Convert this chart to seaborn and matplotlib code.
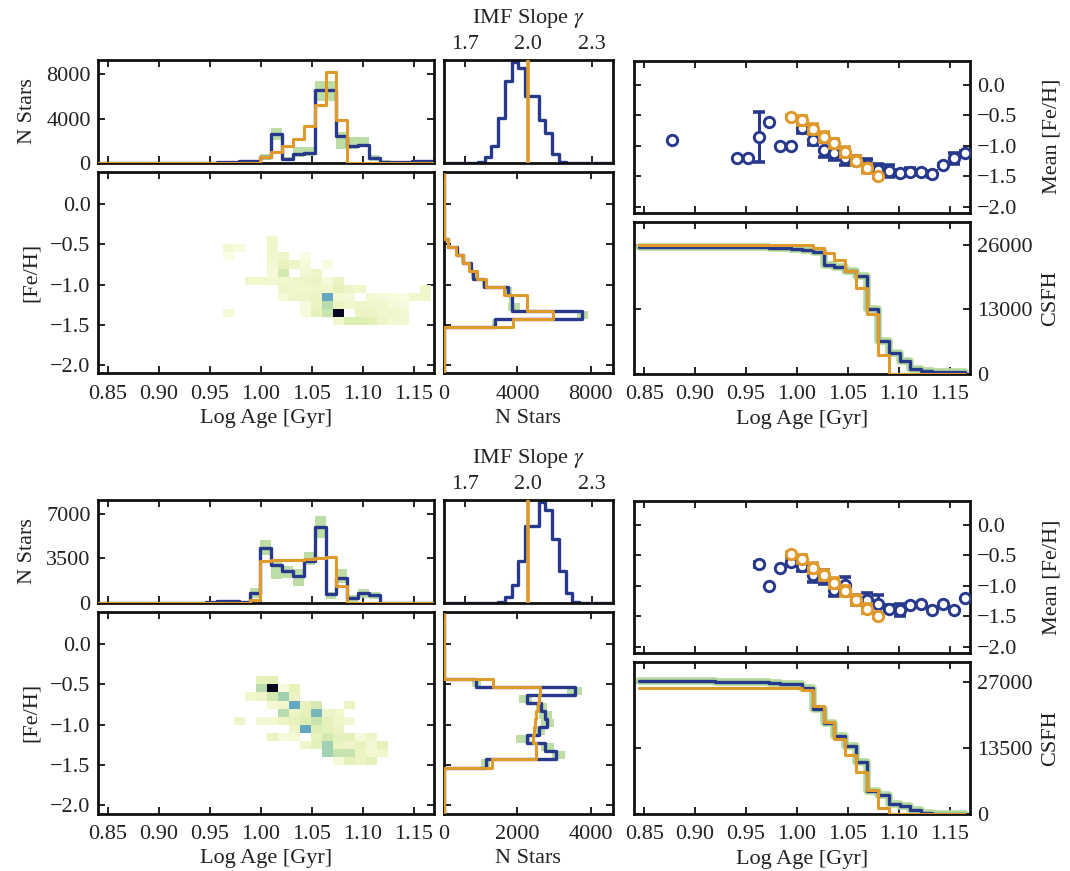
import numpy as np
import pandas as pd
import matplotlib
matplotlib.use("Agg")
import matplotlib.pyplot as plt
import seaborn as sns
from matplotlib.colors import LinearSegmentedColormap

# ---------------------------------------------------------------- bin grids
age_edges = np.linspace(0.84, 1.17, 32)            # log-age bins of the SFH histograms
age_mid = 0.5 * (age_edges[:-1] + age_edges[1:])
feh_edges = np.linspace(-2.13, 0.37, 26)           # [Fe/H] bins of the side histograms
feh_mid = 0.5 * (feh_edges[:-1] + feh_edges[1:])
gamma_edges = np.linspace(1.6, 2.4, 26)            # IMF slope bins
gamma_mid = 0.5 * (gamma_edges[:-1] + gamma_edges[1:])
map_age_edges = np.linspace(0.9632, 1.16745, 20)   # age-metallicity map grid
map_feh_edges = np.linspace(-1.5, -0.4, 12)

# ---------------------------------------------------------------- model 1 (upper block)
nstars_fit_1 = [0, 0, 0, 30, 0, 0, 0, 0, 0, 40, 40, 60, 100, 150, 200, 500,
                2600, 400, 780, 900, 6600, 6600, 2400, 1550, 1600, 420, 100, 60, 60, 150, 200]
nstars_lo_1 = [0, 0, 0, 30, 0, 0, 0, 0, 0, 40, 40, 60, 100, 150, 200, 250,
               2100, 150, 550, 600, 5600, 5600, 1300, 1300, 1400, 200, 50, 60, 60, 150, 200]
nstars_hi_1 = [0, 0, 0, 30, 0, 0, 0, 0, 0, 40, 40, 60, 100, 150, 200, 800,
               3200, 550, 1400, 1400, 7400, 7400, 2800, 2300, 2300, 750, 250, 60, 60, 150, 200]
nstars_true_1 = [0, 0, 0, 0, 0, 0, 0, 0, 0, 0, 0, 0, 0, 0, 0, 540,
                 990, 1500, 2200, 3300, 5260, 8200, 3900, 0, 0, 0, 0, 0, 0, 0, 0]

feh_fit_1 = [0, 0, 0, 0, 0, 0, 2780, 7500, 3690, 3690, 3510, 2200, 1600, 1450, 1050, 690, 240,
             0, 0, 0, 0, 0, 0, 0, 0]
feh_lo_1 = [0, 0, 0, 0, 0, 0, 2600, 7250, 3500, 3550, 3350, 2050, 1450, 1350, 950, 600, 180,
            0, 0, 0, 0, 0, 0, 0, 0]
feh_hi_1 = [0, 0, 0, 0, 0, 0, 2900, 7870, 4150, 3800, 3700, 2350, 1750, 1550, 1150, 780, 300,
            0, 0, 0, 0, 0, 0, 0, 0]
feh_true_1 = [0, 0, 0, 0, 0, 0, 3780, 5960, 4500, 4500, 3270, 2290, 1780, 1380, 1020, 650, 240,
              0, 0, 0, 0, 0, 0, 0, 0]

imf_fit_1 = [0, 0, 0, 0, 0, 0.01, 0.057, 0.167, 0.44, 0.80, 0.98, 0.92, 0.65, 0.65, 0.42,
             0.29, 0.09, 0.013, 0, 0, 0, 0, 0, 0, 0]
imf_true_1 = 2.0

# age-metallicity map, rows from [Fe/H] = -0.45 (top) down to -1.45
amr_map_1 = [
    [0, 0, 0, 0, .10, 0, 0, 0, 0, 0, 0, 0, 0, 0, 0, 0, 0, 0, 0],
    [.08, .04, 0, 0, .10, 0, 0, 0, 0, 0, 0, 0, 0, 0, 0, 0, 0, 0, 0],
    [.02, 0, 0, 0, .10, .12, 0, .03, 0, 0, 0, 0, 0, 0, 0, 0, 0, 0, 0],
    [0, 0, 0, 0, .08, .18, .12, .05, 0, .03, 0, 0, 0, 0, 0, 0, 0, 0, 0],
    [0, 0, 0, 0, .06, .30, 0, .08, .12, 0, 0, 0, 0, 0, 0, 0, 0, 0, 0],
    [0, 0, .10, .10, .08, .10, .10, .12, .14, .05, .15, 0, 0, 0, 0, 0, 0, 0, 0],
    [0, 0, 0, 0, 0, .12, .10, .10, .12, .10, .18, .12, .10, 0, 0, 0, 0, 0, .10],
    [0, 0, 0, 0, 0, .06, .12, .12, .15, .60, .08, .06, 0, .08, .05, .04, .02, .10, .10],
    [0, 0, 0, 0, 0, 0, 0, .04, .15, .40, .15, .10, .12, .10, .10, .06, .04, 0, 0],
    [.06, 0, 0, 0, 0, 0, 0, .04, .20, .35, 1.0, 0, .15, .15, .10, .10, .08, 0, 0],
    [0, 0, 0, 0, 0, 0, 0, 0, 0, 0, .10, .25, .25, .22, .12, .08, .08, 0, 0],
]

mean_bin_1 = [3, 9, 10, 11, 12, 13, 14, 15, 16, 17, 18, 19, 20, 21, 22, 23, 24, 25, 26, 27, 28, 29, 30]
mean_feh_fit_1 = [-0.91, -1.20, -1.20, -0.85, -0.60, -1.00, -1.00, -0.70, -0.90, -1.06, -1.11, -1.20,
                  -1.24, -1.31, -1.39, -1.41, -1.44, -1.42, -1.42, -1.46, -1.31, -1.20, -1.11]
mean_feh_err_1 = [0, 0, 0, 0.41, 0, 0, 0, 0.09, 0.09, 0.12, 0.12, 0.12,
                  0.08, 0.09, 0.10, 0.10, 0.05, 0.05, 0.03, 0.05, 0.02, 0.09, 0.03]
mean_true_bin_1 = [14, 15, 16, 17, 18, 19, 20, 21, 22]
mean_feh_true_1 = [-0.52, -0.58, -0.72, -0.85, -0.96, -1.10, -1.24, -1.37, -1.50]
mean_feh_true_err_1 = [0.03, 0.07, 0.08, 0.08, 0.08, 0.08, 0.08, 0.07, 0.03]

# ---------------------------------------------------------------- model 2 (lower block)
nstars_fit_2 = [20, 20, 20, 20, 20, 20, 20, 20, 20, 30, 50, 150, 150, 50, 800, 4300,
                2950, 2550, 2100, 3300, 5960, 700, 1950, 400, 800, 650, 30, 20, 20, 20, 20]
nstars_lo_2 = [20, 20, 20, 20, 20, 20, 20, 20, 20, 30, 50, 150, 150, 50, 400, 3750,
               1900, 2000, 1350, 2950, 5100, 300, 1600, 100, 425, 300, 30, 20, 20, 20, 20]
nstars_hi_2 = [20, 20, 20, 20, 20, 20, 20, 20, 20, 30, 50, 150, 150, 50, 1200, 4950,
               3200, 2900, 2700, 4000, 6800, 900, 2700, 600, 1100, 900, 30, 20, 20, 20, 20]
nstars_true_2 = [0, 0, 0, 0, 0, 0, 0, 0, 0, 0, 0, 0, 0, 0, 250, 3300,
                 3350, 3400, 3400, 3480, 3560, 3620, 1300, 0, 0, 0, 0, 0, 0, 0, 0]

feh_fit_2 = [0, 0, 0, 0, 0, 0, 1150, 3050, 2750, 2250, 2600, 2800, 2750, 2640, 2250, 3570, 870,
             0, 0, 0, 0, 0, 0, 0, 0]
feh_lo_2 = [0, 0, 0, 0, 0, 0, 1000, 2950, 2650, 1950, 2450, 2650, 2600, 2500, 2050, 3350, 750,
            0, 0, 0, 0, 0, 0, 0, 0]
feh_hi_2 = [0, 0, 0, 0, 0, 0, 1250, 3300, 3000, 2350, 2750, 3000, 2950, 2800, 2400, 3750, 1000,
            0, 0, 0, 0, 0, 0, 0, 0]
feh_true_2 = [0, 0, 0, 0, 0, 0, 1300, 2520, 2500, 2420, 2450, 2480, 2520, 2550, 2600, 2620, 1345,
              0, 0, 0, 0, 0, 0, 0, 0]

imf_fit_2 = [0, 0, 0, 0, 0, 0, 0, 0, 0.013, 0.057, 0.17, 0.41, 0.75, 0.75, 0.98, 0.90,
             0.625, 0.31, 0.10, 0.013, 0, 0, 0, 0, 0]
imf_true_2 = 2.0

amr_map_2 = [
    [0, 0, 0, .20, .22, 0, 0, 0, 0, 0, 0, 0, 0, 0, 0, 0, 0, 0, 0],
    [0, 0, 0, .40, 1.0, .04, .18, 0, 0, 0, 0, 0, 0, 0, 0, 0, 0, 0, 0],
    [0, 0, .10, .12, .30, .45, .15, 0, 0, 0, 0, 0, 0, 0, 0, 0, 0, 0, 0],
    [0, 0, 0, 0, .08, .10, .60, .18, .30, 0, 0, .15, 0, 0, 0, 0, 0, 0, 0],
    [0, 0, 0, 0, 0, .40, .15, .20, .55, .12, .10, 0, 0, 0, 0, 0, 0, 0, 0],
    [0, .12, 0, .08, .08, .15, .18, .25, .35, .20, .12, .08, 0, 0, 0, 0, 0, 0, 0],
    [0, 0, 0, 0, 0, 0, .12, .60, .25, .20, .15, 0, 0, 0, 0, 0, 0, 0, 0],
    [0, 0, 0, 0, .15, .04, .06, 0, .18, .30, .20, .20, .05, .12, 0, 0, 0, 0, 0],
    [0, 0, 0, 0, 0, 0, 0, .10, .20, .45, .15, .12, .18, .08, .20, 0, 0, 0, 0],
    [0, 0, 0, 0, 0, 0, 0, 0, 0, .45, .35, .35, .15, .08, .10, 0, 0, 0, 0],
    [0, 0, 0, 0, 0, 0, 0, 0, 0, 0, .06, .20, .15, .20, 0, 0, 0, 0, 0],
]

mean_bin_2 = [11, 12, 13, 14, 15, 16, 17, 18, 19, 20, 21, 22, 23, 24, 25, 26, 27, 28, 29, 30]
mean_feh_fit_2 = [-0.645, -1.00, -0.705, -0.60, -0.68, -0.82, -0.85, -1.06, -0.99, -1.23,
                  -1.23, -1.30, -1.37, -1.40, -1.31, -1.29, -1.39, -1.30, -1.39, -1.19]
mean_feh_err_2 = [0.04, 0, 0, 0.08, 0.08, 0.12, 0.12, 0.10, 0.13, 0.08,
                  0.12, 0.15, 0.05, 0.10, 0, 0, 0, 0, 0, 0]
mean_true_bin_2 = [14, 15, 16, 17, 18, 19, 20, 21, 22]
mean_feh_true_2 = [-0.48, -0.56, -0.70, -0.82, -0.95, -1.08, -1.23, -1.37, -1.50]
mean_feh_true_err_2 = [0.03, 0.07, 0.08, 0.08, 0.08, 0.08, 0.08, 0.07, 0.03]

# ---------------------------------------------------------------- axis settings
age_ticks = [0.85, 0.90, 0.95, 1.00, 1.05, 1.10, 1.15]
feh_ticks = [0.0, -0.5, -1.0, -1.5, -2.0]
gamma_ticks = [1.7, 2.0, 2.3]
nstars_ticks_1, nstars_ticks_2 = [0, 4000, 8000], [0, 3500, 7000]
side_ticks_1, side_ticks_2 = [0, 4000, 8000], [0, 2000, 4000]
csfh_ticks_1, csfh_ticks_2 = [0, 13000, 26000], [0, 13500, 27000]

# ---------------------------------------------------------------- style
sns.set_theme(style="ticks")
plt.rcParams.update({
    "font.family": ["Liberation Serif", "DejaVu Serif"],
    "mathtext.fontset": "stix",
    "axes.linewidth": 2.0,
    "axes.edgecolor": "#111111",
    "xtick.direction": "in", "ytick.direction": "in",
    "xtick.major.size": 5, "ytick.major.size": 5,
    "xtick.major.width": 1.3, "ytick.major.width": 1.3,
    "xtick.major.pad": 8, "ytick.major.pad": 5,
    "xtick.labelsize": 16, "ytick.labelsize": 16,
    "axes.labelsize": 16,
    "text.color": "#222222", "axes.labelcolor": "#222222",
    "xtick.color": "#111111", "ytick.color": "#111111",
    "xtick.labelcolor": "#222222", "ytick.labelcolor": "#222222",
})

BLUE = "#27398c"
ORANGE = "#e0992b"
GREEN = "#b6da9e"
map_cmap = LinearSegmentedColormap.from_list(
    "amr", ["#fbfde8", "#eef5c6", "#dfeeb2", "#c2e1ad", "#8dc5b5",
            "#5a9fc3", "#3470ad", "#1c2a66", "#07081f"])

fig = plt.figure(figsize=(10.7, 8.71), dpi=100)


def ticks_all(ax):
    ax.tick_params(top=True, bottom=True, left=True, right=True)


def step_hist(ax, centers, counts, edges, color, lw, z, vertical=False):
    frame = pd.DataFrame({"pos": centers, "count": np.asarray(counts, dtype=float)})
    bins = [float(e) for e in edges]
    if vertical:
        sns.histplot(data=frame, y="pos", weights="count", bins=bins, element="step",
                     fill=False, color=color, linewidth=lw, ax=ax, zorder=z)
    else:
        sns.histplot(data=frame, x="pos", weights="count", bins=bins, element="step",
                     fill=False, color=color, linewidth=lw, ax=ax, zorder=z)


def draw_block(shift, nfit, nlo, nhi, ntrue, ffit, flo, fhi, ftrue, imf_fit, imf_true,
               amr, mbin, mfit, merr, tbin, mtrue, mterr,
               n_ylim, n_ticks, s_xlim, s_ticks, c_ylim, c_ticks):
    nfit, nlo, nhi, ntrue = map(np.asarray, (nfit, nlo, nhi, ntrue))
    ffit, flo, fhi, ftrue = map(np.asarray, (ffit, flo, fhi, ftrue))

    axA = fig.add_axes([0.0913, 0.8129 - shift, 0.3143, 0.1183])
    axB = fig.add_axes([0.0913, 0.5712 - shift, 0.3143, 0.2317])
    axC = fig.add_axes([0.4150, 0.8129 - shift, 0.1577, 0.1183])
    axD = fig.add_axes([0.4150, 0.5712 - shift, 0.1577, 0.2317])
    axE = fig.add_axes([0.5925, 0.7555 - shift, 0.3140, 0.1749])
    axF = fig.add_axes([0.5925, 0.5706 - shift, 0.3140, 0.1749])

    # star counts per age bin
    axA.fill_between(age_edges, np.append(nlo, nlo[-1]), np.append(nhi, nhi[-1]),
                     step="post", color=GREEN, lw=0, alpha=0.9, zorder=1)
    step_hist(axA, age_mid, nfit, age_edges, BLUE, 2.4, 2)
    step_hist(axA, age_mid, ntrue, age_edges, ORANGE, 2.2, 3)
    axA.set_xlim(0.84, 1.17)
    axA.set_ylim(*n_ylim)
    axA.set_xticks(age_ticks)
    axA.set_xticklabels([])
    axA.set_yticks(n_ticks)
    axA.set_xlabel("")
    axA.set_ylabel("N Stars", labelpad=7)
    ticks_all(axA)

    # age-metallicity map
    amr = np.asarray(amr)[::-1]
    a_mid = 0.5 * (map_age_edges[:-1] + map_age_edges[1:])
    f_mid = 0.5 * (map_feh_edges[:-1] + map_feh_edges[1:])
    gx, gy = np.meshgrid(a_mid, f_mid)
    keep = amr > 0
    cells = pd.DataFrame({"age": gx[keep], "feh": gy[keep], "w": amr[keep]})
    sns.histplot(data=cells, x="age", y="feh", weights="w",
                 bins=[[float(e) for e in map_age_edges], [float(e) for e in map_feh_edges]],
                 cmap=map_cmap, vmin=0, vmax=1, ax=axB)
    axB.set_xlim(0.84, 1.17)
    axB.set_ylim(-2.1, 0.4)
    axB.set_xticks(age_ticks)
    axB.set_xticklabels([f"{t:.2f}" for t in age_ticks])
    axB.set_yticks(feh_ticks)
    axB.set_yticklabels([f"{t:.1f}".replace("-", "\u2212") for t in feh_ticks])
    axB.set_xlabel("Log Age [Gyr]", labelpad=4)
    axB.set_ylabel("[Fe/H]", labelpad=7)
    ticks_all(axB)

    # IMF slope posterior
    step_hist(axC, gamma_mid, imf_fit, gamma_edges, BLUE, 2.4, 2)
    axC.axvline(imf_true, color=ORANGE, lw=2.6, zorder=3)
    axC.set_xlim(1.6, 2.4)
    axC.set_ylim(0, 1.0)
    axC.set_xticks(gamma_ticks)
    axC.set_yticks([])
    axC.xaxis.set_label_position("top")
    axC.tick_params(axis="x", top=True, bottom=True, labeltop=True, labelbottom=False, pad=4)
    axC.set_xlabel(r"IMF Slope $\gamma$", labelpad=9)
    axC.set_ylabel("")

    # star counts per metallicity bin
    axD.fill_betweenx(feh_edges, np.append(flo, flo[-1]), np.append(fhi, fhi[-1]),
                      step="post", color=GREEN, lw=0, alpha=0.9, zorder=1)
    step_hist(axD, feh_mid, ffit, feh_edges, BLUE, 2.4, 2, vertical=True)
    step_hist(axD, feh_mid, ftrue, feh_edges, ORANGE, 2.2, 3, vertical=True)
    axD.set_ylim(-2.1, 0.4)
    axD.set_xlim(*s_xlim)
    axD.set_xticks(s_ticks)
    axD.set_yticks(feh_ticks)
    axD.set_yticklabels([])
    axD.set_xlabel("N Stars", labelpad=4)
    axD.set_ylabel("")
    ticks_all(axD)

    # mean metallicity per age bin
    mx = age_mid[np.asarray(mbin)]
    mfit, merr = np.asarray(mfit), np.asarray(merr)
    has_err = merr > 0
    axE.errorbar(mx[has_err], mfit[has_err], yerr=merr[has_err], fmt="none",
                 ecolor=BLUE, elinewidth=2.2, capsize=4.5, capthick=2.6, zorder=2)
    sns.scatterplot(x=mx, y=mfit, marker="o", s=56, facecolor="white",
                    edgecolor=BLUE, linewidth=2.1, ax=axE, zorder=3)
    tx = age_mid[np.asarray(tbin)]
    axE.errorbar(tx, mtrue, yerr=mterr, fmt="none", ecolor=ORANGE, elinewidth=2.2,
                 capsize=4.5, capthick=2.6, zorder=4)
    sns.scatterplot(x=tx, y=np.asarray(mtrue), marker="o", s=56, facecolor="white",
                    edgecolor=ORANGE, linewidth=2.1, ax=axE, zorder=5)
    axE.set_xlim(0.84, 1.17)
    axE.set_ylim(-2.1, 0.4)
    axE.set_xticks(age_ticks)
    axE.set_xticklabels([])
    axE.set_yticks(feh_ticks)
    axE.set_yticklabels([f"{t:.1f}".replace("-", "\u2212") for t in feh_ticks])
    axE.yaxis.tick_right()
    axE.yaxis.set_label_position("right")
    axE.set_ylabel("Mean [Fe/H]", labelpad=18)
    ticks_all(axE)

    # cumulative star formation history (oldest bins summed first)
    csfh_fit = np.cumsum(nfit[::-1])[::-1]
    csfh_true = np.cumsum(ntrue[::-1])[::-1]
    sns.lineplot(x=age_mid, y=csfh_fit, drawstyle="steps-post", color=GREEN,
                 linewidth=5.5, ax=axF, zorder=1)
    sns.lineplot(x=age_mid, y=csfh_fit, drawstyle="steps-post", color=BLUE,
                 linewidth=2.4, ax=axF, zorder=2)
    sns.lineplot(x=age_mid, y=csfh_true, drawstyle="steps-post", color=ORANGE,
                 linewidth=2.2, ax=axF, zorder=3)
    axF.set_xlim(0.84, 1.17)
    axF.set_ylim(*c_ylim)
    axF.set_xticks(age_ticks)
    axF.set_xticklabels([f"{t:.2f}" for t in age_ticks])
    axF.set_yticks(c_ticks)
    axF.yaxis.tick_right()
    axF.yaxis.set_label_position("right")
    axF.set_ylabel("CSFH", labelpad=6)
    axF.set_xlabel("Log Age [Gyr]", labelpad=4)
    ticks_all(axF)


draw_block(0.0, nstars_fit_1, nstars_lo_1, nstars_hi_1, nstars_true_1,
           feh_fit_1, feh_lo_1, feh_hi_1, feh_true_1, imf_fit_1, imf_true_1,
           amr_map_1, mean_bin_1, mean_feh_fit_1, mean_feh_err_1,
           mean_true_bin_1, mean_feh_true_1, mean_feh_true_err_1,
           (0, 9300), nstars_ticks_1, (0, 9200), side_ticks_1, (0, 30600), csfh_ticks_1)

draw_block(0.5052, nstars_fit_2, nstars_lo_2, nstars_hi_2, nstars_true_2,
           feh_fit_2, feh_lo_2, feh_hi_2, feh_true_2, imf_fit_2, imf_true_2,
           amr_map_2, mean_bin_2, mean_feh_fit_2, mean_feh_err_2,
           mean_true_bin_2, mean_feh_true_2, mean_feh_true_err_2,
           (0, 8100), nstars_ticks_2, (0, 4600), side_ticks_2, (0, 31100), csfh_ticks_2)

fig.savefig("out.png", dpi=100)
